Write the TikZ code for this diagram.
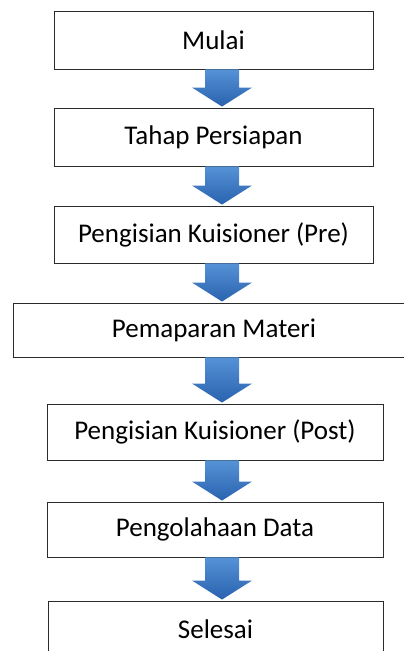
\documentclass[tikz,border=0pt]{standalone}
\usepackage{fontspec}
\setmainfont{Carlito}
\usetikzlibrary{calc}
\definecolor{boxline}{HTML}{2B2B2B}
\definecolor{arrtop}{HTML}{5592D6}
\definecolor{arrbot}{HTML}{2A62AE}
\tikzset{
  stepbox/.style={draw=boxline, line width=0.9pt, fill=white, inner sep=0pt,
    font=\fontsize{27}{30}\selectfont, text=black},
  flowarrow/.style={top color=arrtop, bottom color=arrbot, draw=none}
}
\newcommand{\flowarrow}[2]{%
  \shade[flowarrow] let \p1=(#1.south), \p2=(#2.north) in
    (205pt,\y1) -- (239pt,\y1) -- (239pt,\y2+20pt) -- (252pt,\y2+20pt)
    -- (222pt,\y2+1pt) -- (192pt,\y2+20pt) -- (205pt,\y2+20pt) -- cycle;}
\begin{document}
\begin{tikzpicture}[x=1pt,y=1pt]
\useasboundingbox (0,0) rectangle (404,-651);
\node[stepbox, minimum width=319pt, minimum height=58pt] (b1) at (213.5,-40) {Mulai};
\node[stepbox, minimum width=319pt, minimum height=58pt] (b2) at (213.5,-137) {Tahap Persiapan};
\node[stepbox, minimum width=319pt, minimum height=57pt] (b3) at (213.5,-234.5) {Pengisian Kuisioner (Pre)};
\node[stepbox, minimum width=403pt, minimum height=54pt] (b4) at (214.5,-330) {};
\node[font=\fontsize{27}{30}\selectfont, inner sep=0pt] (t4) at (214,-330) {Pemaparan Materi};
\node[stepbox, minimum width=336pt, minimum height=56pt] (b5) at (215,-432) {Pengisian Kuisioner (Post)};
\node[stepbox, minimum width=336pt, minimum height=55pt] (b6) at (215,-529.5) {Pengolahaan Data};
\node[stepbox, minimum width=335pt, minimum height=57pt] (b7) at (215.5,-629.5) {Selesai};
\flowarrow{b1}{b2}
\flowarrow{b2}{b3}
\flowarrow{b3}{b4}
\flowarrow{b4}{b5}
\flowarrow{b5}{b6}
\flowarrow{b6}{b7}
\end{tikzpicture}
\end{document}
